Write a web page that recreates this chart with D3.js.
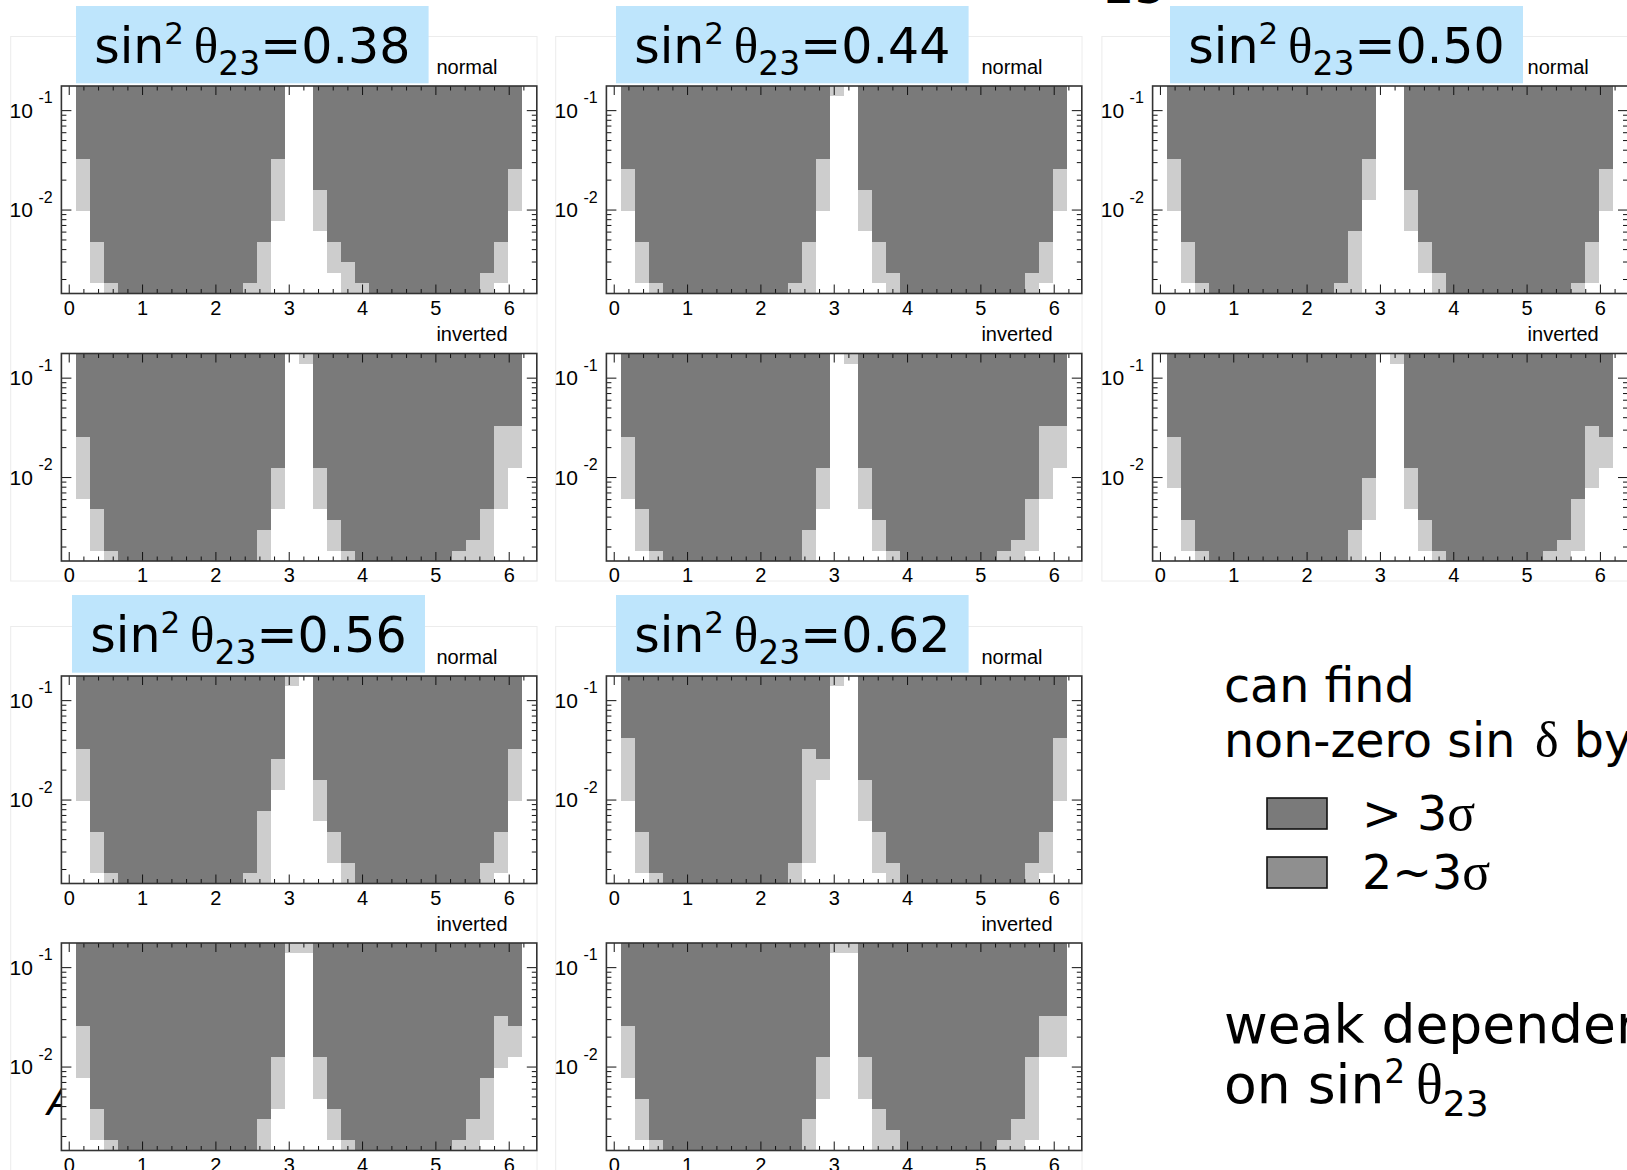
<!DOCTYPE html>
<html>
<head>
<meta charset="utf-8">
<script src="https://cdn.jsdelivr.net/npm/d3@7"></script>
<style>
  html, body { margin: 0; padding: 0; background: #ffffff; }
  svg { display: block; }
</style>
</head>
<body>
<svg id="chart" width="1627" height="1170"></svg>
<script>
// ---------------------------------------------------------------------------
// Scan grid: δ_CP bins (x) and sin²2θ13 bins (y, logarithmic)
// ---------------------------------------------------------------------------
const deltaDomain   = [-0.1, 6.383];          // x axis range (rad)
const deltaBinStart = 0.1;                    // first δ bin edge
const deltaBinWidth = 0.19;                   // δ bin width
const nDeltaBins    = 32;
const s13Domain     = [0.00143, 0.175];       // y axis range (sin²2θ13)
const nS13Bins      = 20;

const xTickValues  = [0, 1, 2, 3, 4, 5, 6];
const xTickLabels  = ["0", "1", "2", "3", "4", "5", "6"];
const yTickValues  = [0.01, 0.1];
const yTickLabels  = [["10", "-2"], ["10", "-1"]];

const thetaValues = ["0.38", "0.44", "0.50", "0.56", "0.62"];

// For each δ bin: number of sin²2θ13 bins (from the bottom) below 2σ,
// and number of bins below 3σ.  Bins in between are 2~3σ, above is > 3σ.
const normal038_2sigma   = [8,1,0,0,0,0,0,0,0,0,0,0,0,0,7,20,20,6,2,0,0,0,0,0,0,0,0,0,0,0,1,8];
const normal038_3sigma   = [13,5,1,0,0,0,0,0,0,0,0,0,1,5,13,20,20,10,5,3,1,0,0,0,0,0,0,0,0,2,5,12];
const inverted038_2sigma = [6,1,0,0,0,0,0,0,0,0,0,0,0,0,5,20,19,5,1,0,0,0,0,0,0,0,0,0,0,0,5,9];
const inverted038_3sigma = [12,5,1,0,0,0,0,0,0,0,0,0,0,3,9,20,20,9,4,1,0,0,0,0,0,0,0,1,2,5,13,13];

const normal044_2sigma   = [8,1,0,0,0,0,0,0,0,0,0,0,0,0,8,19,20,6,1,0,0,0,0,0,0,0,0,0,0,0,1,8];
const normal044_3sigma   = [12,5,1,0,0,0,0,0,0,0,0,0,1,5,13,20,20,10,5,2,0,0,0,0,0,0,0,0,0,2,5,12];
const inverted044_2sigma = [6,1,0,0,0,0,0,0,0,0,0,0,0,0,5,20,19,5,1,0,0,0,0,0,0,0,0,0,0,1,6,9];
const inverted044_3sigma = [12,5,1,0,0,0,0,0,0,0,0,0,0,3,9,20,20,9,4,1,0,0,0,0,0,0,0,1,2,6,13,13];

const normal050_2sigma   = [8,1,0,0,0,0,0,0,0,0,0,0,0,0,9,20,20,6,2,0,0,0,0,0,0,0,0,0,0,0,1,8];
const normal050_3sigma   = [13,5,1,0,0,0,0,0,0,0,0,0,1,6,13,20,20,10,5,2,0,0,0,0,0,0,0,0,0,1,5,12];
const inverted050_2sigma = [7,1,0,0,0,0,0,0,0,0,0,0,0,0,4,20,19,5,1,0,0,0,0,0,0,0,0,0,0,1,7,9];
const inverted050_3sigma = [12,4,1,0,0,0,0,0,0,0,0,0,0,3,8,20,20,9,4,1,0,0,0,0,0,0,0,1,2,6,13,12];

const normal056_2sigma   = [8,1,0,0,0,0,0,0,0,0,0,0,0,0,9,19,20,6,2,0,0,0,0,0,0,0,0,0,0,0,1,8];
const normal056_3sigma   = [13,5,1,0,0,0,0,0,0,0,0,0,1,7,12,20,20,10,5,2,0,0,0,0,0,0,0,0,0,2,5,13];
const inverted056_2sigma = [7,1,0,0,0,0,0,0,0,0,0,0,0,0,4,19,19,5,1,0,0,0,0,0,0,0,0,0,0,1,8,9];
const inverted056_3sigma = [12,4,1,0,0,0,0,0,0,0,0,0,0,3,9,20,20,9,4,1,0,0,0,0,0,0,0,1,3,7,13,12];

const normal062_2sigma   = [8,1,0,0,0,0,0,0,0,0,0,0,0,2,10,19,20,6,1,0,0,0,0,0,0,0,0,0,0,0,1,8];
const normal062_3sigma   = [14,5,1,0,0,0,0,0,0,0,0,0,2,13,12,20,20,10,5,2,0,0,0,0,0,0,0,0,0,2,5,14];
const inverted062_2sigma = [7,1,0,0,0,0,0,0,0,0,0,0,0,0,5,19,19,5,0,0,0,0,0,0,0,0,0,0,0,1,9,9];
const inverted062_3sigma = [12,5,1,0,0,0,0,0,0,0,0,0,0,3,9,20,20,9,4,2,0,0,0,0,0,0,0,1,3,9,13,13];

const sensitivity = {
  "0.38": { normal: [normal038_2sigma, normal038_3sigma], inverted: [inverted038_2sigma, inverted038_3sigma] },
  "0.44": { normal: [normal044_2sigma, normal044_3sigma], inverted: [inverted044_2sigma, inverted044_3sigma] },
  "0.50": { normal: [normal050_2sigma, normal050_3sigma], inverted: [inverted050_2sigma, inverted050_3sigma] },
  "0.56": { normal: [normal056_2sigma, normal056_3sigma], inverted: [inverted056_2sigma, inverted056_3sigma] },
  "0.62": { normal: [normal062_2sigma, normal062_3sigma], inverted: [inverted062_2sigma, inverted062_3sigma] }
};

// ---------------------------------------------------------------------------
// Styles and layout
// ---------------------------------------------------------------------------
const COL_DARK  = "#7a7a7a";   // > 3σ
const COL_LIGHT = "#cdcdcd";   // 2~3σ
const COL_LEG_LIGHT = "#8f8f8f";
const COL_TITLE_BG = "#bee5fc";
const SANS  = "'DejaVu Sans', Verdana, sans-serif";
const SERIF = "'Liberation Serif', 'DejaVu Serif', serif";
const AXF   = "'Liberation Sans', Arial, Helvetica, sans-serif";

const frameW = 475.4, frameH = 207.5;
const layout = [
  { theta: "0.38", fx: 61.4,   ny: 86,  iy: 353.5, box: [76,   6,   352.6, 77.3] },
  { theta: "0.44", fx: 606.4,  ny: 86,  iy: 353.5, box: [616,  6,   352.6, 77.3] },
  { theta: "0.50", fx: 1152.6, ny: 86,  iy: 353.5, box: [1170, 6,   353,   77.3] },
  { theta: "0.56", fx: 61.4,   ny: 676, iy: 943,   box: [72,   595, 353,   77.7] },
  { theta: "0.62", fx: 606.4,  ny: 676, iy: 943,   box: [616,  595, 352.6, 77.7] }
];

const svg = d3.select("#chart");

// sin²2θ13 bin edges on the logarithmic grid
const logLo = Math.log10(s13Domain[0]), logHi = Math.log10(s13Domain[1]);
const s13Edges = d3.range(nS13Bins + 1).map(k => Math.pow(10, logLo + (logHi - logLo) * k / nS13Bins));

// minor tick positions
const xMinor = d3.range(0, 6.4, 0.2).filter(v => Math.abs(v - Math.round(v)) > 1e-6);
const yMinor = [];
[0.001, 0.01, 0.1].forEach(dec => {
  for (let m = 2; m <= 9; m++) {
    const v = dec * m;
    if (v > s13Domain[0] && v < s13Domain[1]) yMinor.push(v);
  }
});

// faint canvas outlines behind each pair of plots
const canvasLayer = svg.append("g");
layout.forEach(L => {
  canvasLayer.append("rect")
    .attr("x", L.fx - 50.7).attr("y", L.ny - 49.5)
    .attr("width", frameW + 50.9).attr("height", (L.iy + frameH + 20) - (L.ny - 49.5))
    .attr("fill", "none").attr("stroke", "#ececec").attr("stroke-width", 1);
});

// stray slide letters partially hidden by the plots
svg.append("text").attr("x", 47).attr("y", 1115)
  .attr("font-family", AXF).attr("font-style", "italic").attr("font-size", 40)
  .attr("fill", "#000").text("A");
svg.append("text").attr("x", 1104).attr("y", 2.5)
  .attr("font-family", SANS).attr("font-size", 48).attr("fill", "#000").text("23");

function drawPanel(g, x0, y0, cuts, label) {
  const x = d3.scaleLinear().domain(deltaDomain).range([x0, x0 + frameW]);
  const y = d3.scaleLog().domain(s13Domain).range([y0 + frameH, y0]);
  const [lo2, lo3] = cuts;

  // plot area background
  g.append("rect").attr("x", x0).attr("y", y0).attr("width", frameW).attr("height", frameH)
    .attr("fill", "#fff");

  // cells
  const cols = d3.range(nDeltaBins).map(i => ({
    x1: deltaBinStart + i * deltaBinWidth,
    x2: deltaBinStart + (i + 1) * deltaBinWidth,
    a: lo2[i], b: lo3[i]
  }));
  const cells = g.append("g").attr("shape-rendering", "crispEdges");
  cells.selectAll("rect.light").data(cols.filter(c => c.b > c.a)).join("rect")
    .attr("class", "light")
    .attr("x", c => x(c.x1)).attr("width", c => x(c.x2) - x(c.x1))
    .attr("y", c => y(s13Edges[c.b])).attr("height", c => y(s13Edges[c.a]) - y(s13Edges[c.b]))
    .attr("fill", COL_LIGHT);
  cells.selectAll("rect.dark").data(cols.filter(c => c.b < nS13Bins)).join("rect")
    .attr("class", "dark")
    .attr("x", c => x(c.x1)).attr("width", c => x(c.x2) - x(c.x1))
    .attr("y", c => y(s13Edges[nS13Bins])).attr("height", c => y(s13Edges[c.b]) - y(s13Edges[nS13Bins]))
    .attr("fill", COL_DARK);

  // axes (ticks on all four sides, pointing inward)
  const styleAxis = sel => {
    sel.select(".domain").remove();
    sel.selectAll(".tick line").attr("stroke", "#111").attr("stroke-width", 1);
  };
  g.append("g").attr("transform", `translate(0,${y0 + frameH})`)
    .call(d3.axisBottom(x).tickValues(xTickValues).tickSize(-9).tickPadding(7)
      .tickFormat((d, i) => xTickLabels[i]))
    .call(styleAxis)
    .call(s => s.selectAll("text").attr("font-family", AXF).attr("font-size", 20).attr("fill", "#000"));
  g.append("g").attr("transform", `translate(0,${y0 + frameH})`)
    .call(d3.axisBottom(x).tickValues(xMinor).tickSize(-4.5).tickFormat(""))
    .call(styleAxis);
  g.append("g").attr("transform", `translate(0,${y0})`)
    .call(d3.axisTop(x).tickValues(xTickValues).tickSize(-9).tickFormat(""))
    .call(styleAxis);
  g.append("g").attr("transform", `translate(0,${y0})`)
    .call(d3.axisTop(x).tickValues(xMinor).tickSize(-4.5).tickFormat(""))
    .call(styleAxis);
  g.append("g").attr("transform", `translate(${x0},0)`)
    .call(d3.axisLeft(y).tickValues(yTickValues).tickSize(-10).tickFormat(""))
    .call(styleAxis);
  g.append("g").attr("transform", `translate(${x0},0)`)
    .call(d3.axisLeft(y).tickValues(yMinor).tickSize(-5).tickFormat(""))
    .call(styleAxis);
  g.append("g").attr("transform", `translate(${x0 + frameW},0)`)
    .call(d3.axisRight(y).tickValues(yTickValues).tickSize(-10).tickFormat(""))
    .call(styleAxis);
  g.append("g").attr("transform", `translate(${x0 + frameW},0)`)
    .call(d3.axisRight(y).tickValues(yMinor).tickSize(-5).tickFormat(""))
    .call(styleAxis);

  // y labels written as 10 with a raised exponent
  yTickValues.forEach((v, i) => {
    const ty = y(v);
    g.append("text").attr("x", x0 - 28.5).attr("y", ty + 7.5).attr("text-anchor", "end")
      .attr("font-family", AXF).attr("font-size", 21).text(yTickLabels[i][0]);
    g.append("text").attr("x", x0 - 23).attr("y", ty - 7).attr("text-anchor", "start")
      .attr("font-family", AXF).attr("font-size", 16).text(yTickLabels[i][1]);
  });

  // frame
  g.append("rect").attr("x", x0).attr("y", y0).attr("width", frameW).attr("height", frameH)
    .attr("fill", "none").attr("stroke", "#333").attr("stroke-width", 1.6);

  // hierarchy label
  g.append("text").attr("x", x0 + 375).attr("y", y0 - 12.5)
    .attr("font-family", AXF).attr("font-size", 20).attr("fill", "#000").text(label);
}

function mathText(parent, x, y, size, anchor, parts) {
  const t = parent.append("text").attr("x", x).attr("y", y)
    .attr("font-family", SANS).attr("font-size", size).attr("text-anchor", anchor).attr("fill", "#000");
  let shift = 0;
  parts.forEach(p => {
    const s = t.append("tspan").text(p.t);
    const target = p.dy || 0;
    if (target !== shift) { s.attr("dy", target - shift); shift = target; }
    if (p.size) s.attr("font-size", p.size);
    if (p.serif) s.attr("font-family", SERIF);
  });
  return t;
}

// panels
layout.forEach(L => {
  const g = svg.append("g");
  drawPanel(g, L.fx, L.ny, sensitivity[L.theta].normal, "normal");
  drawPanel(g, L.fx, L.iy, sensitivity[L.theta].inverted, "inverted");

  const [bx, by, bw, bh] = L.box;
  g.append("rect").attr("x", bx).attr("y", by).attr("width", bw).attr("height", bh).attr("fill", COL_TITLE_BG);
  mathText(g, bx + bw / 2, by + 56.5, 49, "middle", [
    { t: "sin" },
    { t: "2", size: 31, dy: -19 },
    { t: "\u2009" },
    { t: "\u03b8", serif: true, size: 51 },
    { t: "23", size: 33, dy: 12 },
    { t: "=" + L.theta }
  ]);
});

// legend and notes
const notes = svg.append("g");
const NOTE = 47.5, NOTE2 = 53.5;
mathText(notes, 1224, 702, NOTE, "start", [{ t: "can find" }]);
mathText(notes, 1224, 757, NOTE, "start", [
  { t: "non-zero sin\u200a " }, { t: "\u03b4", serif: true, size: 50 }, { t: " by" }
]);
notes.append("rect").attr("x", 1267).attr("y", 798).attr("width", 60).attr("height", 31)
  .attr("fill", COL_DARK).attr("stroke", "#111").attr("stroke-width", 1.6);
notes.append("rect").attr("x", 1267).attr("y", 857).attr("width", 60).attr("height", 31)
  .attr("fill", COL_LEG_LIGHT).attr("stroke", "#111").attr("stroke-width", 1.6);
mathText(notes, 1362, 830, NOTE, "start", [{ t: "> 3" }, { t: "\u03c3", serif: true, size: 52 }]);
mathText(notes, 1362, 889, NOTE, "start", [{ t: "2~3" }, { t: "\u03c3", serif: true, size: 52 }]);
mathText(notes, 1224, 1043, NOTE2, "start", [{ t: "weak dependence" }]);
mathText(notes, 1224, 1103, NOTE2, "start", [
  { t: "on sin" },
  { t: "2", size: 33, dy: -20 },
  { t: "\u2009" },
  { t: "\u03b8", serif: true, size: 56 },
  { t: "23", size: 36, dy: 13 }
]);
</script>
</body>
</html>
